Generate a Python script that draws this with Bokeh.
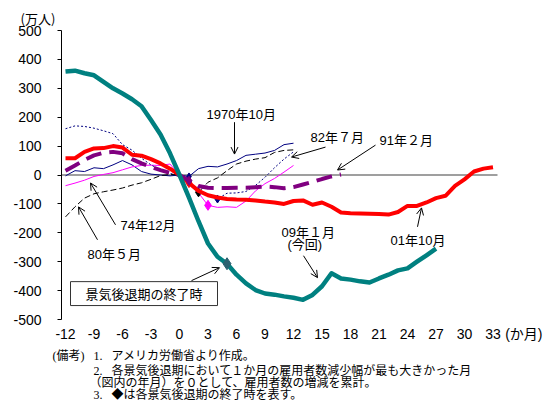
from bokeh.plotting import figure
from bokeh.layouts import column, row
from bokeh.models import Label, Arrow, OpenHead, FixedTicker, Range1d, Title
from bokeh.embed import file_html
from bokeh.resources import INLINE

# Cumulative change in US payroll employment (10,000 persons), month 0 = month of largest drop
m_1970_10 = list(range(-12, 13))
v_1970_10 = [-3, 15, 12, 25, 22, 35, 50, 35, 12, 3, 0, -3, 0,
             -5, 22, 30, 28, 38, 50, 68, 72, 76, 85, 105, 110]

m_1974_12 = list(range(-12, 13))
v_1974_12 = [-37, -28, -18, -5, 2, 8, 18, 28, 33, 34, 33, 38, 0,
             -30, -62, -105, -112, -110, -112, -90, -55, -30, -12, 10, 33]

m_1980_05 = list(range(-12, 13))
v_1980_05 = [-145, -110, -80, -65, -58, -52, -45, -35, -27, -15, -2, 2, 0,
             -30, -60, -25, -10, 15, 38, 48, 55, 60, 78, 85, 87]

m_1982_07 = list(range(-12, 13))
v_1982_07 = [160, 170, 168, 162, 153, 143, 105, 86, 58, 35, 17, 5, 0,
             -25, -50, -72, -83, -63, -62, -57, -36, -8, 25, 55, 80]

m_1991_02 = list(range(-12, 18))
v_1991_02 = [15, 33, 52, 68, 77, 80, 75, 55, 40, 28, 17, 7, 0,
             -20, -38, -44, -45, -45, -44, -44, -42, -40, -42, -46, -42,
             -33, -24, -14, -5, 2]

m_2001_10 = list(range(-12, 34))
v_2001_10 = [58, 58, 80, 92, 93, 100, 95, 70, 67, 55, 40, 22, 0,
             -28, -55, -70, -78, -83, -85, -86, -88, -92, -95, -100, -90,
             -88, -103, -95, -110, -130, -132, -133, -134, -135, -137, -128, -107,
             -107, -95, -80, -72, -38, -15, 12, 22, 27]

m_2009_01 = list(range(-12, 28))
v_2009_01 = [358, 361, 352, 345, 322, 300, 282, 262, 238, 190, 140, 75, 0,
             -78, -160, -237, -283, -307, -345, -375, -398, -410, -414, -420, -425,
             -432, -415, -385, -340, -358, -362, -368, -372, -358, -345, -330, -323,
             -300, -278, -255]

# month (relative) in which each recession ended
end_month = {"1970_10": 1, "1974_12": 3, "1980_05": 2, "1982_07": 4,
             "1991_02": 1, "2001_10": 1, "2009_01": 5}

x_ticks = list(range(-12, 34, 3))
x_tick_labels = ["-12", "-9", "-6", "-3", "0", "3", "6", "9", "12", "15",
                 "18", "21", "24", "27", "30", "33"]
unit_tick, unit_label = 36.25, "(か月)"
y_ticks = list(range(-500, 501, 100))
y_tick_labels = ["-500", "-400", "-300", "-200", "-100", "0",
                 "100", "200", "300", "400", "500"]

notes = [
    ("(備考)", 52, 355), ("1.", 93, 355), ("アメリカ労働省より作成。", 111, 355),
    ("2.", 93, 370.5), ("各景気後退期において１か月の雇用者数減少幅が最も大きかった月", 111, 370.5),
    ("（図内の年月）を０として、雇用者数の増減を累計。", 89, 382.5),
    ("3.", 93, 394.5), ("◆は各景気後退期の終了時を表す。", 111, 394.5),
]

# page layout: month 0 sits at x=179px, 9.5px per month; value 0 at y=175px, 0.29px per unit
W, H_TOP, H = 549, 344, 417
FL, FT, FR, FB = 61, 30, 549, 320
X_ORIGIN, X_SCALE = 179.0, 9.5
Y_ORIGIN, Y_SCALE = 175.0, 0.29


def sx(px):
    return (px - X_ORIGIN) / X_SCALE


def sy(py):
    return (Y_ORIGIN - py) / Y_SCALE


TICK_FONT = "'Liberation Sans', 'Noto Sans CJK JP', sans-serif"
LABEL_FONT = "'Liberation Sans', 'Noto Sans CJK JP', sans-serif"
CJK_FONT = "'Noto Sans CJK JP', sans-serif"
NOTE_FONT = "'Liberation Serif', 'Noto Sans CJK JP', serif"

p = figure(width=W, height=H_TOP, output_backend="svg", toolbar_location=None,
           title=None, x_range=Range1d(sx(FL), sx(FR)), y_range=Range1d(-500, 500),
           min_border_left=FL, min_border_right=W - FR,
           min_border_top=FT, min_border_bottom=H_TOP - FB)
p.xgrid.visible = False
p.ygrid.visible = False
p.outline_line_color = None
p.background_fill_color = "white"
p.border_fill_color = "white"

p.xaxis.ticker = FixedTicker(ticks=x_ticks + [unit_tick])
overrides = {t: s for t, s in zip(x_ticks, x_tick_labels)}
overrides[unit_tick] = unit_label
p.xaxis.major_label_overrides = overrides
p.xaxis.axis_line_color = None
p.xaxis.major_tick_line_color = None
p.xaxis.minor_tick_line_color = None
p.xaxis.major_tick_out = 0
p.xaxis.major_tick_in = 0
p.xaxis.major_label_standoff = 6
p.xaxis.major_label_text_font = TICK_FONT
p.xaxis.major_label_text_font_size = "14px"
p.xaxis.major_label_text_color = "black"

p.yaxis.ticker = FixedTicker(ticks=y_ticks)
p.yaxis.major_label_overrides = {t: s for t, s in zip(y_ticks, y_tick_labels)}
p.yaxis.axis_line_color = "black"
p.yaxis.axis_line_width = 1
p.yaxis.major_tick_line_color = "black"
p.yaxis.major_tick_out = 4
p.yaxis.major_tick_in = 0
p.yaxis.minor_tick_line_color = None
p.yaxis.major_label_standoff = 16
p.yaxis.major_label_text_font = TICK_FONT
p.yaxis.major_label_text_font_size = "14px"
p.yaxis.major_label_text_color = "black"

# zero reference line across the plotting area
p.segment(x0=[sx(61)], y0=[0], x1=[sx(497)], y1=[0], line_color="#7f7f7f", line_width=1.5)

series = [
    ("1970_10", m_1970_10, v_1970_10, dict(line_color="#000080", line_width=1), "#000080", 7),
    ("1974_12", m_1974_12, v_1974_12, dict(line_color="#FF00FF", line_width=1), "#FF00FF", 10),
    ("1982_07", m_1982_07, v_1982_07, dict(line_color="#000080", line_width=1, line_dash="2 2"), "#000080", 8),
    ("1980_05", m_1980_05, v_1980_05, dict(line_color="black", line_width=1, line_dash="6 3"), "black", 9),
    ("2001_10", m_2001_10, v_2001_10, dict(line_color="#FF0000", line_width=4), "#FF0000", 9),
    ("1991_02", m_1991_02, v_1991_02, dict(line_color="#800080", line_width=4, line_dash="16 8"), "#800080", 9),
    ("2009_01", m_2009_01, v_2009_01, dict(line_color="#008080", line_width=4.5), "#2B6170", 12),
]

for key, ms, vs, style, dcol, dsize in series:
    p.line(ms, vs, line_join="round", **style)
    em = end_month[key]
    ev = vs[ms.index(em)]
    p.scatter([em], [ev], marker="diamond", size=dsize, fill_color=dcol,
              line_color=dcol)


def label(fig, x, y, text, size, font, align="left"):
    fig.add_layout(Label(x=x, y=y, text=text, text_font=font,
                         text_font_size=f"{size}px", text_align=align,
                         text_baseline="middle", text_color="black"))


def plabel(px, py, text, size, font, align="left"):
    label(p, sx(px), sy(py), text, size, font, align)


def arrow(px0, py0, px1, py1):
    p.add_layout(Arrow(x_start=sx(px0), y_start=sy(py0), x_end=sx(px1), y_end=sy(py1),
                       line_color="black", line_width=1,
                       end=OpenHead(size=7, line_color="black", line_width=1)))


# series annotations
plabel(206, 114, "1970年10月", 13, LABEL_FONT)
arrow(234, 122, 234, 154)
plabel(310, 137, "82年７月", 13, LABEL_FONT)
arrow(325, 147, 291, 157)
plabel(379, 140, "91年２月", 13, LABEL_FONT)
arrow(375, 145, 337, 170)
plabel(120, 226, "74年12月", 13, LABEL_FONT)
arrow(115, 225, 90, 183)
plabel(87, 255, "80年５月", 13, LABEL_FONT)
arrow(97, 240, 78, 207)
plabel(281, 233, "09年１月", 13, LABEL_FONT)
plabel(287, 245, "(今回)", 13, LABEL_FONT)
arrow(303, 256, 317, 278)
plabel(390, 241, "01年10月", 13, LABEL_FONT)
arrow(417, 227, 421, 208)

# box marking recession end points
p.quad(left=[sx(70)], right=[sx(217)], top=[sy(282)], bottom=[sy(306)],
       fill_color="white", line_color="#333333", line_width=1)
plabel(143.5, 294, "景気後退期の終了時", 13, CJK_FONT, align="center")
arrow(191, 281, 219, 268)

# unit of the value axis
p.add_layout(Title(text="(万人)", align="left", offset=20 - FL, standoff=6,
                   text_font=CJK_FONT, text_font_size="13px",
                   text_font_style="normal", text_color="black"), "above")

# notes strip beneath the chart, addressed in page pixels
n = figure(width=W, height=H - H_TOP, output_backend="svg", toolbar_location=None,
           title=None, x_range=Range1d(0, W), y_range=Range1d(H, H_TOP),
           x_axis_location=None, y_axis_location=None, min_border=0)
n.xgrid.visible = False
n.ygrid.visible = False
n.outline_line_color = None
n.background_fill_color = "white"
n.border_fill_color = "white"
for text, x, y in notes:
    label(n, x, y, text, 12, NOTE_FONT)

# keep each plot's frame where its own borders put it
for fig in (p, n):
    if "frame_align" in fig.properties():
        fig.frame_align = False

layout = column(p, row(n, spacing=0), spacing=0)
open("out.html", "w").write(file_html(layout, INLINE))
